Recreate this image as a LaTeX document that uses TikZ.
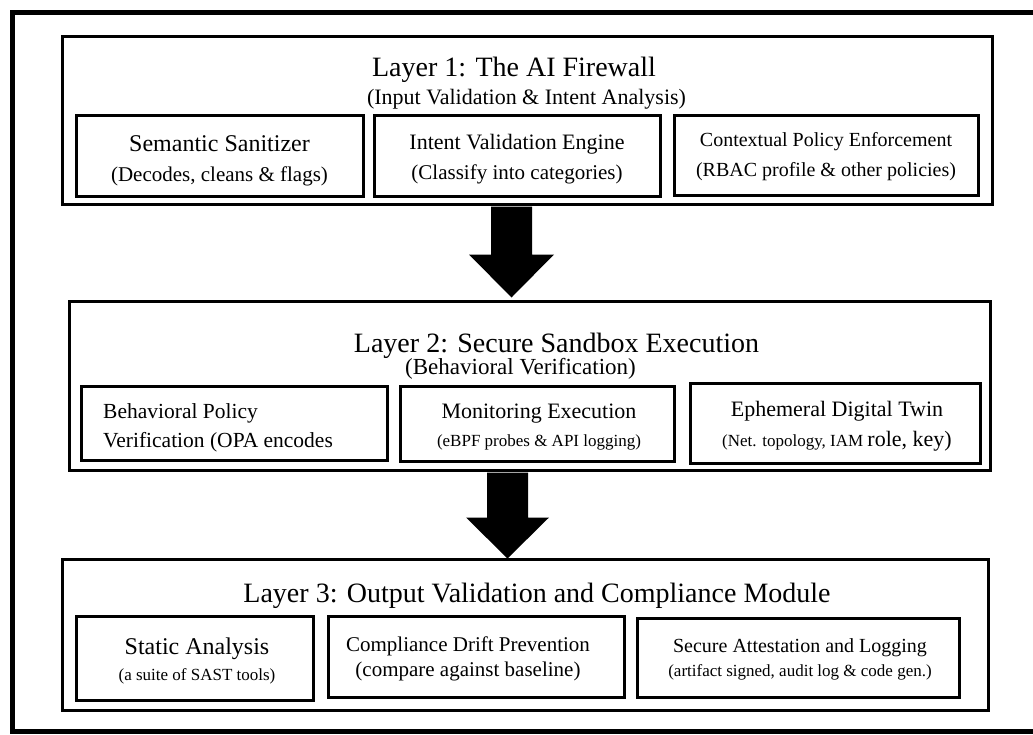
\documentclass[tikz,border=0pt]{standalone}
\usepackage{fontspec}
\setmainfont{Liberation Serif}
\usetikzlibrary{calc}
\newcommand\fsz[2]{\fontsize{#1}{#2}\selectfont}
\begin{document}
\begin{tikzpicture}[x=1pt,y=-1pt,
  layerbox/.style={draw,line width=3pt,rectangle,inner sep=0pt},
  subbox/.style={draw,line width=3pt,rectangle,inner sep=0pt},
  txt/.style={align=center,inner sep=0pt},
  ttl/.style={inner sep=0pt,font=\fsz{28}{32}},
  bigarrow/.style={fill=black}
]
\useasboundingbox (0,0) rectangle (1033,734);
\fill[white] (0,0) rectangle (1033,734);
\begin{scope}
\clip (0,0) rectangle (1033,734);
\draw[line width=5pt] (12,12) rectangle (1060,731);
\end{scope}

% Layer boxes
\node[layerbox,minimum width=930pt,minimum height=168pt] (L1) at (527,120) {};
\node[layerbox,minimum width=921pt,minimum height=169pt] (L2) at (529.5,385.5) {};
\node[layerbox,minimum width=926pt,minimum height=151pt] (L3) at (525,634.5) {};

% Titles
\node[ttl] (t1) at (514,70) {Layer 1: The AI Firewall};
\node[inner sep=0pt,font=\fsz{22}{26}] (st1) at (526.5,99) {(Input Validation \& Intent Analysis)};
\node[ttl] (t2) at (556.5,346) {Layer 2: Secure Sandbox Execution};
\node[inner sep=0pt,font=\fsz{23}{26}] (st2) at (520.5,369) {(Behavioral Verification)};
\node[ttl] (t3) at (537,596) {Layer 3: Output Validation and Compliance Module};

% Layer 1 sub boxes
\node[subbox,minimum width=287pt,minimum height=81pt] (s11) at (219.5,155.5) {};
\node[subbox,minimum width=286pt,minimum height=81pt] (s12) at (517,155.5) {};
\node[subbox,minimum width=304pt,minimum height=80pt] (s13) at (826,155) {};
\node[txt,font=\fsz{21}{30}] (s11t) at (219.5,161) {{\fsz{24}{30}Semantic Sanitizer}\\(Decodes, cleans \& flags)};
\node[txt,font=\fsz{21}{30}] (s12t) at (517,159) {{\fsz{22}{30}Intent Validation Engine}\\(Classify into categories)};
\node[txt,font=\fsz{20}{30}] (s13t) at (826,157) {Contextual Policy Enforcement\\(RBAC profile \& other policies)};

% Layer 2 sub boxes
\node[subbox,minimum width=306pt,minimum height=74pt] (s21) at (234,423) {};
\node[subbox,minimum width=274pt,minimum height=75pt] (s22) at (537,423.5) {};
\node[subbox,minimum width=290pt,minimum height=80pt] (s23) at (835,423) {};
\node[inner sep=0pt,align=left,anchor=west,font=\fsz{21.5}{29}] (s21t) at (103,428) {Behavioral Policy\\Verification (OPA encodes};
\node[txt,font=\fsz{17}{28}] (s22t) at (539,427) {{\fsz{22}{28}Monitoring Execution}\\(eBPF probes \& API logging)};
\node[txt,font=\fsz{22}{30}] (s23t) at (837,426) {Ephemeral Digital Twin\\{\fsz{17}{30}(Net. topology, IAM }role, key)};

% Layer 3 sub boxes
\node[subbox,minimum width=237pt,minimum height=84pt] (s31) at (194.5,658) {};
\node[subbox,minimum width=296pt,minimum height=81pt] (s32) at (476,656.5) {};
\node[subbox,minimum width=322pt,minimum height=79pt] (s33) at (798,657.5) {};
\node[txt,font=\fsz{17}{26}] (s31t) at (197,661) {{\fsz{24}{26}Static Analysis}\\(a suite of SAST tools)};
\node[txt,font=\fsz{21}{25}] (s32t) at (468,659) {Compliance Drift Prevention\\(compare against baseline)};
\node[txt,font=\fsz{17}{24}] (s33t) at (800,659) {{\fsz{20}{24}Secure Attestation and Logging}\\(artifact signed, audit log \& code gen.)};

% Arrows
\coordinate (a1) at (511.5,0);
\coordinate (a2) at (507.5,0);
\path (L1.south -| a1) coordinate (b1) (L2.north -| a1) coordinate (e1);
\path (L2.south -| a2) coordinate (b2) (L3.north -| a2) coordinate (e2);
\fill[bigarrow] ($(b1)+(-20.5,1)$) -- ($(b1)+(20.5,1)$) -- ($(e1)+(20.5,-45)$) -- ($(e1)+(42.5,-45)$) -- ($(e1)+(0,-2)$) -- ($(e1)+(-42.5,-45)$) -- ($(e1)+(-20.5,-45)$) -- cycle;
\fill[bigarrow] ($(b2)+(-20.5,1)$) -- ($(b2)+(20.5,1)$) -- ($(e2)+(20.5,-40)$) -- ($(e2)+(41.5,-40)$) -- ($(e2)+(0,1)$) -- ($(e2)+(-41.5,-40)$) -- ($(e2)+(-20.5,-40)$) -- cycle;
\end{tikzpicture}
\end{document}
